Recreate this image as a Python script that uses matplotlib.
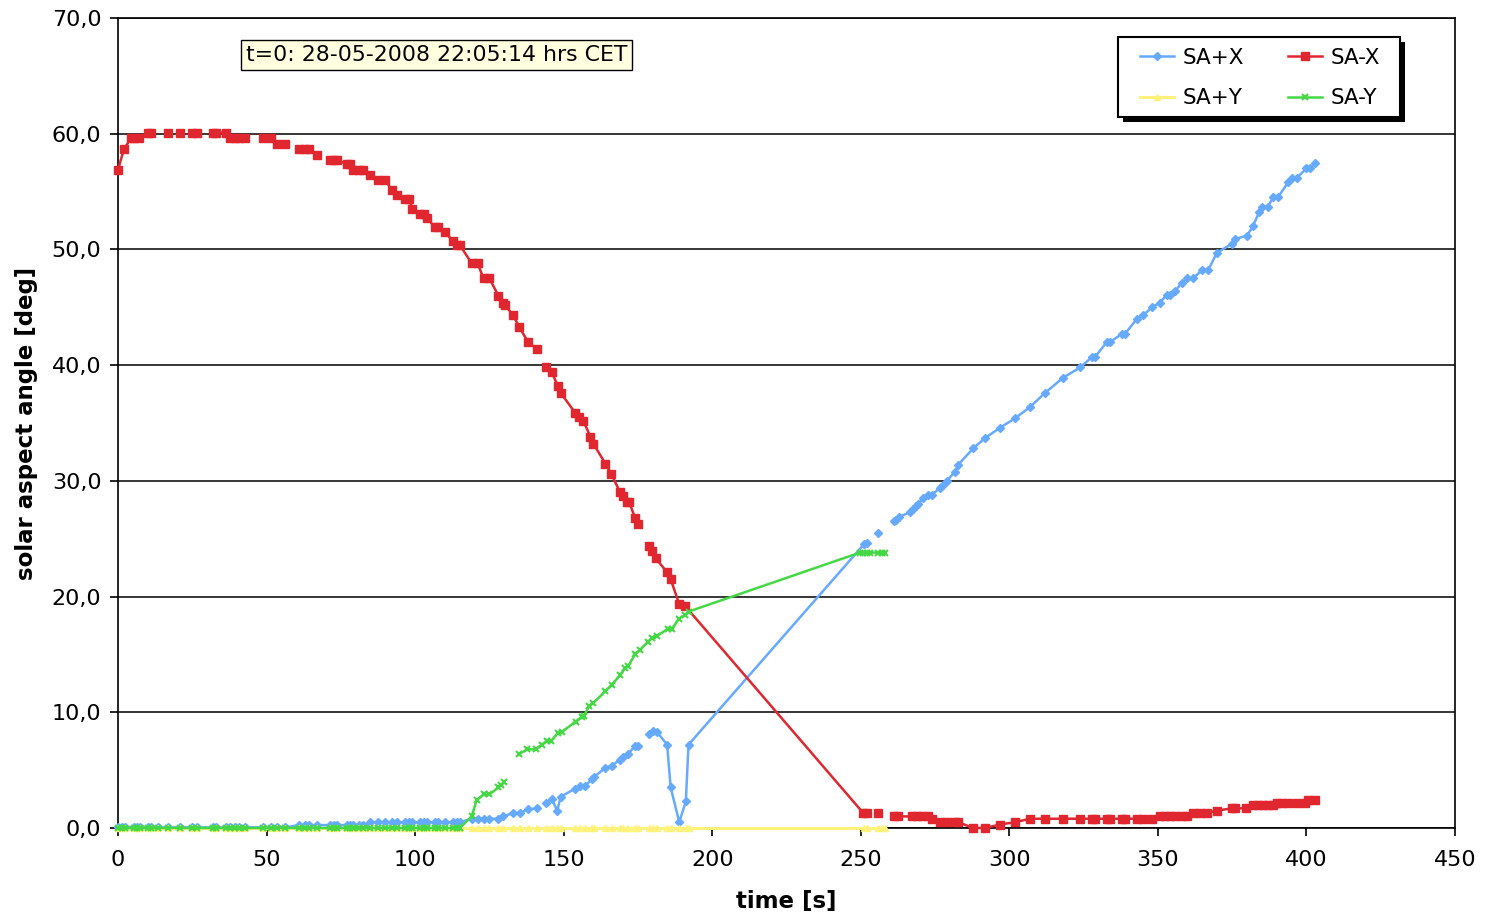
"""Solar aspect angle of the four sun sensors versus time."""

import matplotlib
matplotlib.use("Agg")
import matplotlib.pyplot as plt
import numpy as np
from matplotlib.patches import Rectangle
from matplotlib.ticker import FuncFormatter

nan = np.nan

# common time stamps of the first part (all sensors near zero)
T_EARLY = [0, 1.2, 2.4, 5.2, 6.3, 7.4, 10, 11, 13.5, 16.8, 21, 24.9, 26.6, 32, 33,
           36.4, 37.7, 39.4, 40.7, 42.7, 48.8, 51.5, 53.5, 56.2, 60.9, 63, 64.3, 67,
           71.4, 72.7, 73.7, 77, 78, 79, 81, 82.5, 84.8, 87.5, 89.9, 92.2, 93.9, 96.6,
           98, 99, 101.7, 103, 104, 106.7, 107.7, 110, 112.8, 114, 115]

# SA+X
BLUE_EARLY = [0.05] * 24 + [0.25] * 12 + [0.5] * 17
BLUE_T = [119, 121, 123, 125, 128, 129.7, 133, 135.3, 138, 141, nan,
          144, 146, 147.8, 149, 153.8, 155.5, 157, 159.5, 160.2, 164, 166.2, 169, 170,
          171.7, 174, 175, nan,
          178.8, 180, 181.4, 184.8, 186, 188.9, 191.1, 192, 251, 252, nan,
          255.8, nan,
          261, 262, 263, 266.6, 267.6, 268.6, 269.3, 271, 272.6, 273.9, 276.7, 277.8,
          279, 281.7, 282.8, 287.8, 291.8, 296.9, 301.9, 307, 312, 318, 323.8, 327.8,
          328.8, 332.8, 333.9, 337.9, 338.9, 342.9, 345, 348, 350.7, 353, 354, 355.8,
          358, 359.8, 361.8, 364.8, 366.9, 369.8, 375, 376, 380, 382, 384, 385, 387,
          388.8, 390.4, 393.8, 395, 396.8, 400, 401.2, 403]
BLUE_V = [0.8, 0.8, 0.8, 0.8, 0.8, 1.0, 1.3, 1.3, 1.6, 1.7, nan,
          2.2, 2.5, 1.5, 2.7, 3.4, 3.6, 3.6, 4.2, 4.4, 5.2, 5.4, 5.9, 6.1,
          6.4, 7.1, 7.1, nan,
          8.1, 8.4, 8.3, 7.2, 3.5, 0.5, 2.3, 7.2, 24.5, 24.6, nan,
          25.5, nan,
          26.5, 26.6, 26.9, 27.3, 27.6, 27.8, 28.0, 28.5, 28.8, 28.8, 29.4, 29.6,
          30.0, 30.8, 31.4, 32.8, 33.7, 34.6, 35.4, 36.4, 37.6, 38.9, 39.8, 40.7,
          40.7, 42.0, 42.0, 42.7, 42.7, 44.0, 44.3, 45.0, 45.4, 46.1, 46.1, 46.4,
          47.1, 47.5, 47.5, 48.2, 48.2, 49.7, 50.5, 50.9, 51.2, 52.0, 53.2, 53.7, 53.7,
          54.5, 54.5, 55.8, 56.2, 56.2, 57.0, 57.0, 57.5]

# SA-X
RED_T = [0, 2, 4.4, 5.4, 7, 10, 11, nan, 16.8, nan, 21, nan, 24.9, 26.6, nan,
         32, 33, 36.4, 37.7, 39.4, 40.7, 42.7, nan, 48.8, 51.5, nan, 53.5, 56.2, nan,
         60.9, 63, 64.3, 67, nan,
         71.4, 72.7, 73.7, 77, 78, 79, 81, 82.5, 84.8, 87.5, 89.9, 92.2, 93.9, 96.6,
         98, 99, 101.7, 103, 104, 106.7, 107.7, 110, 112.8, 114, 115, 119, 121, 123,
         125, 128, 129.6, 130.2, 133, 135, 138, 141, nan,
         144, 146, 148, 149, 153.8, 155, 156.6, 159, 160, 164, 166, 169, 170, 171.3,
         172, 174, 175, nan,
         178.8, 179.8, 181, 184.8, 186, 188.8, 190.8, 250.8, 252, nan, 255.8, nan,
         261, 262.6, 267.3, 269, 270.6, 272.7, 273.9, 276.7, 279, 281.7, 282.8, 287.8,
         291.8, 296.9, 301.9, 307, 312, 318, 323.8, 327.8, 328.8, 332.8, 333.9, 337.9,
         338.9, 342.9, 345, 348, 350.7, 352.4, 354, 355.7, 358, 359.8, 361.8, 364.2,
         366.5, 369.8, 375, 376, 379.7, 382, 383.7, 385.4, 387, 388.7, 390, 391.8,
         393.8, 396.8, 399.5, 400.5, 403]
RED_V = [56.9, 58.7, 59.6, 59.6, 59.6, 60.1, 60.1, nan, 60.1, nan, 60.1, nan, 60.1, 60.1, nan,
         60.1, 60.1, 60.1, 59.6, 59.6, 59.6, 59.6, nan, 59.6, 59.6, nan, 59.1, 59.1, nan,
         58.7, 58.7, 58.7, 58.2, nan,
         57.7, 57.7, 57.7, 57.4, 57.4, 56.9, 56.9, 56.9, 56.4, 56.0, 56.0, 55.1, 54.7, 54.4,
         54.4, 53.5, 53.1, 53.1, 52.7, 51.9, 51.9, 51.5, 50.7, 50.4, 50.4, 48.8, 48.8, 47.5,
         47.5, 46.0, 45.4, 45.2, 44.3, 43.3, 42.0, 41.4, nan,
         39.8, 39.4, 38.2, 37.6, 35.9, 35.5, 35.2, 33.8, 33.2, 31.5, 30.6, 29.0, 28.7, 28.2,
         28.2, 26.8, 26.3, nan,
         24.4, 23.9, 23.3, 22.1, 21.5, 19.4, 19.2, 1.3, 1.3, nan, 1.3, nan,
         1.0, 1.0, 1.0, 1.0, 1.0, 1.0, 0.8, 0.5, 0.5, 0.5, 0.5, 0.0,
         0.0, 0.3, 0.5, 0.8, 0.8, 0.8, 0.8, 0.8, 0.8, 0.8, 0.8, 0.8,
         0.8, 0.8, 0.8, 0.8, 1.0, 1.0, 1.0, 1.0, 1.0, 1.0, 1.3, 1.3,
         1.3, 1.5, 1.7, 1.7, 1.7, 2.0, 2.0, 2.0, 2.0, 2.0, 2.2, 2.2,
         2.2, 2.2, 2.2, 2.4, 2.4]

# SA+Y
YELLOW_T = [119, 121, 123, 125, 128, 129.7, 133, 135.3, 138, 141, 144, 146, 147.8,
            149, 153.8, 155.5, 157, 159.5, 160.2, 164, 166.2, 169, 170, 171.7, 174, 175,
            178.8, 180, 181.4, 184.8, 186, 188.9, 191.1, 192, 251, 252, 255.8, 257, 258]
YELLOW_V = [0.0] * 39

# SA-Y
GREEN_T = [119, 120.7, 123, 125, 128, 129, 130, nan,
           135, 137.8, 140.6, 142.6, 144.3, 145.7, 148, 149.4, 154, 156, 156.8, 158.5,
           159.9, 164, 166.2, 169, 170.6, 171.7, 174, 175.7, 178.4, 179.7, 181.4, 185,
           186.4, 188.8, 190.8, 192, 249.7, 250.8, 252, 253, 255.8, 257, 258]
GREEN_V = [1.0, 2.4, 2.9, 2.9, 3.5, 3.7, 4.0, nan,
           6.4, 6.8, 6.8, 7.2, 7.5, 7.5, 8.2, 8.3, 9.2, 9.6, 9.7, 10.5,
           10.8, 11.8, 12.4, 13.2, 13.8, 14.0, 15.0, 15.4, 16.1, 16.4, 16.6, 17.2,
           17.2, 18.1, 18.4, 18.7, 23.8, 23.8, 23.8, 23.8, 23.8, 23.8, 23.8]

X_TICKS = [0, 50, 100, 150, 200, 250, 300, 350, 400, 450]
Y_TICKS = [0, 10, 20, 30, 40, 50, 60, 70]

START_TEXT = "t=0: 28-05-2008 22:05:14 hrs CET"


def comma(v, _pos):
	return f"{v:.1f}".replace(".", ",")


def draw_legend_box(ax):
	# legend frame with a solid black drop shadow, as in the spreadsheet chart
	x0, y0, w, h = 0.748, 0.8778, 0.2109, 0.0988
	ax.add_patch(Rectangle((x0 + 0.0037, y0 - 0.0062), w, h, transform=ax.transAxes,
						   fc="black", ec="black", lw=0, zorder=6, clip_on=False))
	ax.add_patch(Rectangle((x0, y0), w, h, transform=ax.transAxes,
						   fc="white", ec="black", lw=1.5, zorder=7, clip_on=False))


def main():
	plt.rcParams["font.family"] = ["DejaVu Sans"]
	fig = plt.figure(figsize=(14.87, 9.15), dpi=100)
	ax = fig.add_axes([0.0794, 0.0951, 0.8991, 0.8852])

	blue_t = T_EARLY + BLUE_T
	blue_v = BLUE_EARLY + BLUE_V
	yellow_t = T_EARLY + YELLOW_T
	yellow_v = [0.0] * len(T_EARLY) + YELLOW_V
	green_t = T_EARLY + GREEN_T
	green_v = [0.0] * len(T_EARLY) + GREEN_V

	ax.plot(blue_t, blue_v, color="#66AAFF", lw=1.8, marker="D", ms=3.8,
			label="SA+X", zorder=3, clip_on=False)
	ax.plot(RED_T, RED_V, color="#E0262E", lw=1.8, marker="s", ms=5.5,
			label="SA-X", zorder=3, clip_on=False)
	ax.plot(yellow_t, yellow_v, color="#FFF27A", lw=2.2, marker="^", ms=4.8,
			label="SA+Y", zorder=3, clip_on=False)
	ax.plot(green_t, green_v, color="#45D845", lw=1.8, marker="x", ms=4, mew=1.5,
			label="SA-Y", zorder=3, clip_on=False)

	ax.set_xlim(0, 450)
	ax.set_ylim(0, 70)
	ax.set_xticks(X_TICKS)
	ax.set_yticks(Y_TICKS)
	ax.yaxis.set_major_formatter(FuncFormatter(comma))
	ax.tick_params(axis="both", labelsize=16, length=6, width=1.2, direction="out",
				   color="black")
	ax.tick_params(axis="x", pad=10)
	ax.tick_params(axis="y", pad=6)
	ax.grid(axis="y", color="black", lw=1.1, zorder=1)
	for side in ["left", "bottom", "top", "right"]:
		ax.spines[side].set_color("black")
		ax.spines[side].set_linewidth(1.2)

	ax.set_xlabel("time [s]", fontsize=16.5, fontweight="bold", labelpad=14)
	ax.set_ylabel("solar aspect angle [deg]", fontsize=16.5, fontweight="bold", labelpad=10)

	ax.text(0.0955, 0.954, START_TEXT, transform=ax.transAxes, fontsize=15.8,
			va="center", ha="left", zorder=6,
			bbox=dict(boxstyle="square,pad=0.22", fc="#FFFFE0", ec="black", lw=1))

	draw_legend_box(ax)
	h, l = ax.get_legend_handles_labels()
	order = [0, 2, 1, 3]
	leg = ax.legend([h[i] for i in order], [l[i] for i in order], ncol=2,
					loc="upper left", bbox_to_anchor=(0.7644, 0.9635), borderaxespad=0,
					borderpad=0, fontsize=15.5, frameon=False,
					handlelength=1.6, handletextpad=0.4, columnspacing=2.0,
					labelspacing=0.95)
	leg.set_zorder(8)

	fig.savefig("out.png", dpi=100)
	plt.close(fig)


if __name__ == "__main__":
	main()
